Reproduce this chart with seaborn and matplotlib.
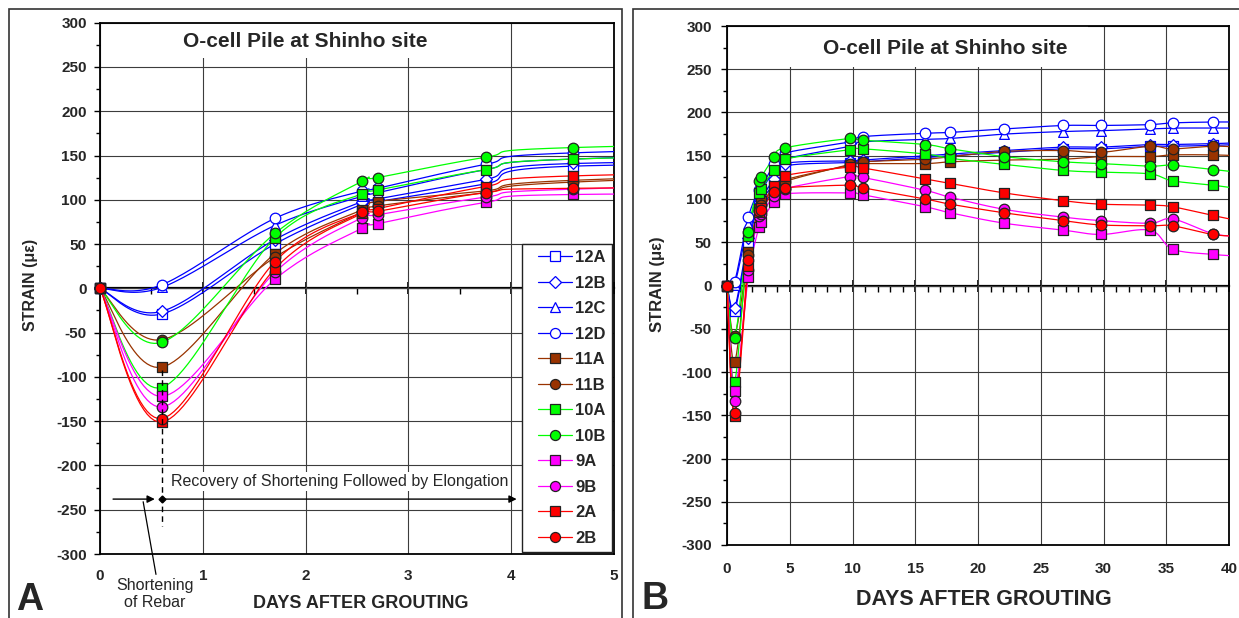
import numpy as np
import matplotlib
matplotlib.use("Agg")
import matplotlib.pyplot as plt
from matplotlib.ticker import MultipleLocator
from matplotlib.lines import Line2D
from matplotlib.legend_handler import HandlerLine2D
from matplotlib.patches import Rectangle
import seaborn as sns

# ---------------- data ----------------
days = [0, 0.6, 1.7, 2.55, 2.7, 3.75, 4.6, 9.8, 10.8, 15.8, 17.8, 22.1, 26.8, 29.8, 33.7, 35.5, 38.7, 40.7]
series_names = ["12A", "12B", "12C", "12D", "11A", "11B", "10A", "10B", "9A", "9B", "2A", "2B"]
s12A = [0, -29, 50, 95, 98, 118, 138, 142, 143, 148, 150, 154, 158, 158, 161, 161, 162, 163]
s12B = [0, -26, 55, 98, 101, 123, 141, 144, 145, 150, 152, 156, 160, 160, 163, 163, 164, 165]
s12C = [0, 1, 71, 104, 108, 134, 146, 161, 166, 169, 170, 175, 178, 179, 181, 182, 182, 182]
s12D = [0, 4, 79, 110, 113, 140, 153, 166, 172, 176, 177, 181, 185, 185, 186, 188, 189, 189]
s11A = [0, -89, 39, 89, 98, 110, 122, 139, 141, 141, 143, 145, 146, 149, 149, 151, 151, 150]
s11B = [0, -58, 35, 86, 93, 108, 120, 140, 143, 146, 149, 155, 156, 154, 161, 158, 161, 160]
s10A = [0, -112, 57, 107, 111, 134, 146, 157, 158, 152, 147, 140, 133, 131, 129, 121, 116, 112]
s10B = [0, -61, 62, 121, 125, 148, 159, 170, 168, 163, 158, 149, 143, 141, 138, 139, 134, 131]
s9A = [0, -122, 10, 68, 73, 97, 106, 107, 105, 91, 84, 72, 64, 59, 64, 42, 36, 34]
s9B = [0, -134, 18, 80, 83, 103, 112, 126, 125, 110, 102, 88, 79, 75, 72, 77, 60, 57]
s2A = [0, -151, 22, 85, 90, 115, 127, 137, 136, 123, 118, 107, 98, 94, 93, 91, 81, 75]
s2B = [0, -147, 30, 86, 87, 108, 113, 116, 113, 100, 94, 84, 75, 70, 69, 69, 59, 57]
values = {"12A": s12A, "12B": s12B, "12C": s12C, "12D": s12D, "11A": s11A, "11B": s11B,
          "10A": s10A, "10B": s10B, "9A": s9A, "9B": s9B, "2A": s2A, "2B": s2B}

title_text = "O-cell Pile at Shinho site"
xlabel_text = "DAYS AFTER GROUTING"
ylabel_text = "STRAIN (\u03bc\u03b5)"

# ---------------- styles ----------------
BLUE, BROWN, LIME, MAG, RED = "#0000FF", "#993300", "#00FF00", "#FF00FF", "#FF0000"
styles = {
    "12A": (BLUE, "s", "white", BLUE), "12B": (BLUE, "D", "white", BLUE),
    "12C": (BLUE, "^", "white", BLUE), "12D": (BLUE, "o", "white", BLUE),
    "11A": (BROWN, "s", BROWN, "#222222"), "11B": (BROWN, "o", BROWN, "#222222"),
    "10A": (LIME, "s", LIME, "#222222"), "10B": (LIME, "o", LIME, "#222222"),
    "9A": (MAG, "s", MAG, "#222222"), "9B": (MAG, "o", MAG, "#222222"),
    "2A": (RED, "s", RED, "#222222"), "2B": (RED, "o", RED, "#222222"),
}
msizes = {"s": 7.2, "D": 6.0, "^": 7.0, "o": 7.6}

sns.set_theme(style="white")
plt.rcParams["font.family"] = ["Liberation Sans", "DejaVu Sans"]
plt.rcParams["axes.unicode_minus"] = False

W, H = 1239, 618
fig = plt.figure(figsize=(W / 100, H / 100), dpi=100)


def fx(px):
    return px / W


def fy(py):
    return 1 - py / H


def smooth(x, y, n=24):
    P = np.column_stack([np.asarray(x, float), np.asarray(y, float)])
    out = [P[0]]
    t = np.linspace(0, 1, n)[1:, None]
    for i in range(len(P) - 1):
        p0 = P[i - 1] if i > 0 else P[i]
        p1, p2 = P[i], P[i + 1]
        p3 = P[i + 2] if i + 2 < len(P) else P[i + 1]
        c1 = p1 + (p2 - p0) / 6.0
        c2 = p2 - (p3 - p1) / 6.0
        B = (1 - t) ** 3 * p1 + 3 * (1 - t) ** 2 * t * c1 + 3 * (1 - t) * t ** 2 * c2 + t ** 3 * p2
        out.extend(B)
    return np.array(out)


def build(ax, xmax, xmajor, xminor, tick_fs, xpad, ypad, title_xy, box):
    d = np.asarray(days, float)
    inside = d <= xmax + 1e-9
    for i, name in enumerate(series_names):
        col, mk, fc, ec = styles[name]
        pts = smooth(days, values[name])
        sns.lineplot(x=pts[:, 0], y=pts[:, 1], sort=False, estimator=None, color=col,
                     lw=0.9, ax=ax, legend=False, zorder=3 + i * 0.01)
        v = np.asarray(values[name], float)
        sns.scatterplot(x=d[inside], y=v[inside], marker=mk, s=msizes[mk] ** 2,
                        color=fc, edgecolor=ec, linewidth=0.9, ax=ax, legend=False,
                        zorder=4 + i * 0.01, clip_on=False)
    ax.set_xlim(0, xmax)
    ax.set_ylim(-300, 300)
    ax.set_xticks(np.arange(0, xmax + 0.01, xmajor))
    ax.set_yticks(np.arange(-300, 301, 50))
    ax.yaxis.set_minor_locator(MultipleLocator(25))
    ax.grid(True, which="major", color="#3c3c3c", lw=0.8)
    ax.set_axisbelow(True)
    for s in ax.spines.values():
        s.set_visible(True)
        s.set_color("black")
        s.set_linewidth(1.3)
    ax.tick_params(axis="x", which="both", length=0, pad=xpad, labelsize=tick_fs, bottom=False)
    ax.tick_params(axis="y", which="major", direction="out", length=4, width=1, pad=ypad,
                   labelsize=tick_fs, left=True, color="black")
    ax.tick_params(axis="y", which="minor", direction="out", length=3, width=1, left=True, color="black")
    plt.setp(ax.get_xticklabels() + ax.get_yticklabels(), fontweight="bold")
    # zero axis line with its ticks
    sec = ax.secondary_xaxis(0.5)
    sec.set_alignment("bottom")
    sec.set_xticks(np.arange(0, xmax + 0.01, xmajor))
    sec.xaxis.set_minor_locator(MultipleLocator(xminor))
    sec.tick_params(which="major", direction="inout", length=8, width=1.2, bottom=True,
                    labelbottom=False, color="black")
    sec.tick_params(which="minor", direction="out", length=4, width=1, bottom=True, color="black")
    sec.spines["bottom"].set_linewidth(1.6)
    sec.spines["bottom"].set_color("black")
    # title with white box
    ax.add_patch(Rectangle((box[0], box[1]), box[2] - box[0], 1 - box[1], transform=ax.transAxes,
                           facecolor="white", edgecolor="none", zorder=1))
    ax.text(title_xy[0], title_xy[1], title_text, transform=ax.transAxes, ha="center", va="center",
            fontsize=15, fontweight="bold", zorder=6)


# ---------------- panel A ----------------
axA = fig.add_axes([fx(100), fy(554), fx(614) - fx(100), fy(22.7) - fy(554)])
build(axA, 5, 1, 0.5, 11, 11.0, 5.5, (0.399, 0.9637), (0.097, 0.9335, 0.72))
axA.set_xlabel(xlabel_text, fontsize=13, fontweight="bold")
axA.xaxis.set_label_coords(0.508, -0.078)
axA.set_ylabel(ylabel_text, fontsize=11.5, fontweight="bold")
axA.yaxis.set_label_coords(-0.121, 0.506)

handles = []
for name in series_names:
    col, mk, fc, ec = styles[name]
    handles.append(Line2D([], [], color=col, lw=0.9, marker=mk, ms=msizes[mk] * 0.95,
                          mfc=fc, mec=ec, mew=0.9))
leg = axA.legend(handles, series_names, loc="lower right", bbox_to_anchor=(0.996, 0.004),
                 borderaxespad=0, prop={"weight": "bold", "size": 12},
                 labelspacing=0.63, handlelength=2.6, handletextpad=0.2, borderpad=0.38,
                 handler_map={Line2D: HandlerLine2D(xpad=0.6)},
                 frameon=True, fancybox=False, framealpha=1, edgecolor="#222222")
leg.get_frame().set_linewidth(1.0)
leg.set_zorder(7)

# annotations
axA.plot([0.6, 0.6], [-92, -268], ls=(0, (4, 3)), color="black", lw=1.0, zorder=5)
axA.annotate("", xy=(0.56, -238), xytext=(0.1, -238),
             arrowprops=dict(arrowstyle="-|>", color="black", lw=1.0, mutation_scale=11), zorder=8)
axA.annotate("", xy=(4.08, -238), xytext=(0.6, -238),
             arrowprops=dict(arrowstyle="-|>", color="black", lw=1.0, mutation_scale=11),
             zorder=8, annotation_clip=False)
axA.plot([0.6], [-238], marker="D", ms=3.5, color="black", zorder=8)
axA.text(2.33, -218, "Recovery of Shortening Followed by Elongation", fontsize=11.5, ha="center",
         va="center", zorder=6, bbox=dict(facecolor="white", edgecolor="none", pad=1.5))
axA.annotate("Shortening\nof Rebar", xy=(0.42, -241), xytext=(0.535, -345),
             ha="center", va="center", multialignment="center", fontsize=11.5,
             annotation_clip=False, zorder=8,
             arrowprops=dict(arrowstyle="-", color="black", lw=0.9, relpos=(0.52, 1.0),
                             shrinkA=0, shrinkB=0))

# ---------------- panel B ----------------
axB = fig.add_axes([fx(727), fy(545), fx(1229) - fx(727), fy(26) - fy(545)])
build(axB, 40, 5, 1, 11, 12.0, 7.0, (0.434, 0.9576), (0.106, 0.921, 0.719))
axB.set_xlabel(xlabel_text, fontsize=15.5, fontweight="bold")
axB.xaxis.set_label_coords(0.512, -0.085)
axB.set_ylabel(ylabel_text, fontsize=12, fontweight="bold")
axB.yaxis.set_label_coords(-0.124, 0.503)

# panel frames and letters
fig.patches.append(Rectangle((fx(8.5), -0.05), fx(622) - fx(8.5), fy(9) + 0.05, transform=fig.transFigure,
                             fill=False, edgecolor="#333333", lw=1.2))
fig.patches.append(Rectangle((fx(633), -0.05), 1.05 - fx(633), fy(9) + 0.05, transform=fig.transFigure,
                             fill=False, edgecolor="#333333", lw=1.2))
fig.text(fx(16), fy(610), "A", fontsize=27, fontweight="bold", ha="left", va="baseline")
fig.text(fx(641), fy(609), "B", fontsize=27, fontweight="bold", ha="left", va="baseline")

fig.savefig("out.png", dpi=100)
